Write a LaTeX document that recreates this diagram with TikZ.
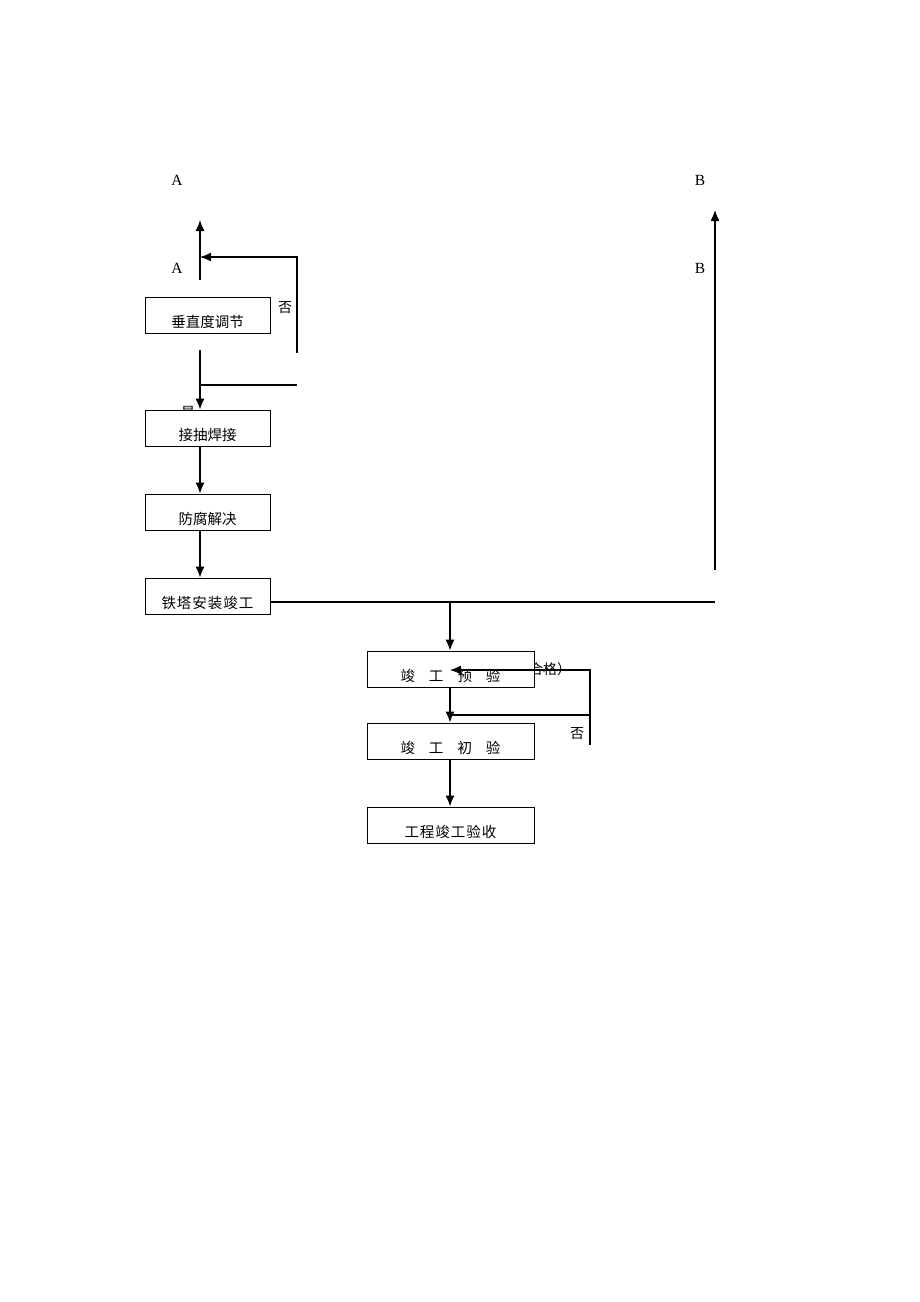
\documentclass[tikz,border=0pt]{standalone}
\usepackage{fontspec}
\setmainfont{Liberation Serif}
\newfontfamily\cjk{Noto Sans CJK SC}
\usetikzlibrary{arrows.meta}

\newcommand{\boxtext}[1]{\raisebox{-12pt}[0pt][0pt]{#1}}

\begin{document}
\begin{tikzpicture}[x=1pt, y=-1pt,
	box/.style={draw, fill=white, line width=0.9pt, minimum width=125pt, minimum height=36pt, inner sep=0pt, font=\cjk\fontsize{14.5}{14.5}\selectfont},
	widebox/.style={box, minimum width=167pt},
	arr/.style={line width=1.3pt, -{Latex[length=11pt,width=9pt]}},
	conn/.style={line width=1.1pt},
	lab/.style={font=\fontsize{15.5}{15.5}\selectfont, inner sep=0pt},
	cjklab/.style={font=\cjk\fontsize{14}{14}\selectfont, inner sep=0pt}]
		\useasboundingbox (0,0) rectangle (920,1302);
		% labels at the top
		\node[lab] (A1) at (177,180) {A};
		\node[lab] (A2) at (177,268) {A};
		\node[lab] (B1) at (700,180) {B};
		\node[lab] (B2) at (700,268) {B};
		\node[cjklab] (no1) at (285,308) {否};
		\node[cjklab] (yes1) at (188,412) {是};
		\node[cjklab, anchor=west] (pass) at (515,669) {（合格）};
		\node[cjklab] (no2) at (577,734) {否};
		% boxes
		\node[box] (adjust) at (207.5,315) {\boxtext{垂直度调节}};
		\node[box] (weld) at (207.5,428) {\boxtext{接抽焊接}};
		\node[box] (anticorr) at (207.5,512) {\boxtext{防腐解决}};
		\node[box] (tower) at (207.5,596) {\boxtext{铁\kern1pt 塔\kern1pt 安\kern1pt 装\kern1pt 竣\kern1pt 工}};
		\node[widebox] (precheck) at (450.5,669) {\boxtext{竣\hspace{14pt}工\hspace{14pt}预\hspace{14pt}验}};
		\node[widebox] (firstcheck) at (450.5,741) {\boxtext{竣\hspace{14pt}工\hspace{14pt}初\hspace{14pt}验}};
		\node[widebox] (accept) at (450.5,825) {\boxtext{工\kern1pt 程\kern1pt 竣\kern1pt 工\kern1pt 验\kern1pt 收}};
		% left column
		\coordinate (up1) at (200,280);
		\coordinate (up2) at (200,220);
		\draw[arr] (up1) -- (up2);
		\coordinate (ret1) at (297,353);
		\coordinate (ret2) at (297,257);
		\coordinate (ret3) at (200,257);
		\draw[arr] (ret1) -- (ret2) -- (ret3);
		\coordinate (down1) at (200,350);
		\coordinate (side1) at (297,385);
		\draw[arr] (down1) -- (weld.north -| down1);
		\draw[conn] (down1 |- side1) -- (side1);
		\draw[arr] (weld.south -| down1) -- (anticorr.north -| down1);
		\draw[arr] (anticorr.south -| down1) -- (tower.north -| down1);
		% right side
		\coordinate (mid) at (715,602);
		\draw[conn] (mid -| tower.east) -- (mid);
		\coordinate (bup1) at (715,570);
		\coordinate (bup2) at (715,210);
		\draw[arr] (bup1) -- (bup2);
		% acceptance column
		\coordinate (split) at (450,602);
		\draw[arr] (split) -- (precheck.north -| split);
		\coordinate (loop1) at (590,745);
		\coordinate (loop2) at (590,670);
		\coordinate (loop3) at (450,670);
		\draw[arr] (loop1) -- (loop2) -- (loop3);
		\coordinate (side2) at (590,715);
		\draw[arr] (precheck.south -| split) -- (firstcheck.north -| split);
		\draw[conn] (split |- side2) -- (side2);
		\draw[arr] (firstcheck.south -| split) -- (accept.north -| split);
\end{tikzpicture}
\end{document}
